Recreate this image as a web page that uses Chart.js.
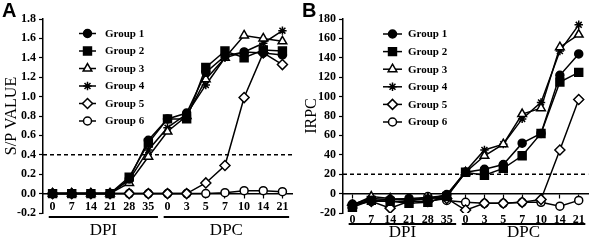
<!DOCTYPE html>
<html><head><meta charset="utf-8">
<script src="https://cdn.jsdelivr.net/npm/chart.js@4/dist/chart.umd.min.js"></script>
<style>
html,body{margin:0;padding:0;background:#fff;}
#wrap{position:relative;width:600px;height:241px;overflow:hidden;}
.panel{position:absolute;top:0;width:300px;height:241px;}
canvas{display:block;}
</style></head><body>
<div id="wrap">
<div class="panel" style="left:0"><canvas id="cA" width="300" height="241"></canvas></div>
<div class="panel" style="left:300px"><canvas id="cB" width="300" height="241"></canvas></div>
</div>
<script>
// ---------- data ----------
const categories = ['0','7','14','21','28','35','0','3','5','7','10','14','21'];
const groupNames = ['Group 1','Group 2','Group 3','Group 4','Group 5','Group 6'];
const phaseNames = ['DPI','DPC'];
const phaseFirst = [0, 6];   // category index where phase starts
const phaseLast  = [5, 12];  // category index where phase ends

// Panel A: S/P value
const spGroup1 = [0,0,0,0,0.15,0.55,0.77,0.83,1.25,1.42,1.46,1.45,1.43];
const spGroup2 = [0,0,0,0,0.17,0.52,0.77,0.77,1.30,1.47,1.40,1.48,1.47];
const spGroup3 = [0,0,0,0,0.11,0.38,0.64,0.80,1.18,1.40,1.63,1.60,1.57];
const spGroup4 = [0,0,0,0,0.14,0.45,0.68,0.82,1.12,1.40,1.46,1.55,1.68];
const spGroup5 = [0,0,0,0,0,0,0,0,0.11,0.29,0.99,1.45,1.33];
const spGroup6 = [0,0,0,0,0,0,0,0,0,0.01,0.03,0.03,0.02];
const spTickMin = -0.2, spTickMax = 1.8, spTickStep = 0.2;
const spCutoff = 0.4;

// Panel B: IRPC
const irpcGroup1 = [-11,-7,-6,-5,-6,-1,22,25,30,52,62,122,144];
const irpcGroup2 = [-14,-7,-8,-10,-9,-3,22,19,26,39,62,115,125];
const irpcGroup3 = [-12,-3,-5,-7,-5,-3,22,39,51,82,88,151,164];
const irpcGroup4 = [-11,-5,-6,-5,-4,-2,23,45,51,77,94,147,174];
const irpcGroup5 = [-12,-8,-15,-8,-8,-5,-17,-10,-10,-9,-6,45,97];
const irpcGroup6 = [-11,-8,-8,-8,-3,-7,-9,-10,-10,-9,-9,-13,-7];
const irpcTickMin = -20, irpcTickMax = 180, irpcTickStep = 20;
const irpcCutoff = 20;

// ---------- styles ----------
const markerStyles = [
  {pointStyle:'circle',   radius:4,   fill:'#000'},
  {pointStyle:'rect',     radius:5.6, fill:'#000'},
  {pointStyle:'triangle', radius:5,   fill:'#fff'},
  {pointStyle:'star',     radius:4.2, fill:'#fff'},
  {pointStyle:'rectRot',  radius:5,   fill:'#fff'},
  {pointStyle:'circle',   radius:4,   fill:'#fff'}
];
const SERIF = "'Liberation Serif','Times New Roman',serif";

function makeDatasets(series){
  return series.map((d,i)=>({
    label: groupNames[i],
    data: d,
    borderColor:'#000',
    borderWidth:1.5,
    backgroundColor: markerStyles[i].fill,
    pointStyle: markerStyles[i].pointStyle,
    pointRadius: markerStyles[i].radius,
    pointBorderWidth:1.5,
    pointBorderColor:'#000',
    pointBackgroundColor: markerStyles[i].fill,
    tension:0,
    fill:false
  }));
}

const decorPlugin = {
  id:'decor',
  beforeDatasetsDraw(chart, args, o){
    const ctx = chart.ctx, a = chart.chartArea, y = chart.scales.y.getPixelForValue(o.cutoff);
    ctx.save();
    ctx.strokeStyle='#000'; ctx.lineWidth=1.6; ctx.setLineDash([4,3]);
    ctx.beginPath(); ctx.moveTo(a.left, y); ctx.lineTo(a.right, y); ctx.stroke();
    ctx.restore();
  },
  afterDraw(chart, args, o){
    const ctx = chart.ctx, xs = chart.scales.x;
    ctx.save();
    // legend
    chart.data.datasets.forEach((ds,i)=>{
      const y = o.legendTop + i*o.legendStep;
      ctx.strokeStyle='#000'; ctx.lineWidth=1.5; ctx.setLineDash([]);
      ctx.beginPath(); ctx.moveTo(o.legendX0,y); ctx.lineTo(o.legendX1,y); ctx.stroke();
      ctx.fillStyle = ds.pointBackgroundColor;
      Chart.helpers.drawPoint(ctx,{pointStyle:ds.pointStyle,radius:ds.pointRadius,borderWidth:1.5,rotation:0},(o.legendX0+o.legendX1)/2,y);
      ctx.fillStyle='#000';
      ctx.font = "bold 11px "+SERIF;
      ctx.textAlign='left'; ctx.textBaseline='middle';
      ctx.fillText(ds.label, o.legendText, y+0.5);
    });
    // phase underline + labels
    const step = xs.getPixelForValue(1) - xs.getPixelForValue(0);
    phaseNames.forEach((p,i)=>{
      const x0 = xs.getPixelForValue(phaseFirst[i]) - 0.2*step;
      const x1 = xs.getPixelForValue(phaseLast[i]) + (i===0 ? 0.5 : 0.35)*step;
      ctx.strokeStyle='#000'; ctx.lineWidth=2;
      ctx.beginPath(); ctx.moveTo(x0,o.phaseLineY); ctx.lineTo(x1,o.phaseLineY); ctx.stroke();
      ctx.fillStyle='#000'; ctx.font="17px "+SERIF; ctx.textAlign='center'; ctx.textBaseline='middle';
      ctx.fillText(p,(x0+x1)/2,o.phaseTextY);
    });
    // panel letter
    ctx.font="bold 20px 'Liberation Sans',Arial,sans-serif"; ctx.textAlign='left'; ctx.textBaseline='alphabetic';
    ctx.fillText(o.letter, 2, 17);
    ctx.restore();
  }
};

function makeChart(id, series, yTitle, tmin, tmax, tstep, fmt, extra){
  return new Chart(document.getElementById(id), {
    type:'line',
    data:{ labels: categories, datasets: makeDatasets(series) },
    plugins:[decorPlugin],
    options:{
      responsive:false, animation:false, devicePixelRatio:1,
      layout:{padding:{left:0, top:19, right:extra.padRight, bottom:28}},
      plugins:{ legend:{display:false}, tooltip:{enabled:false}, decor: extra.decor },
      scales:{
        x:{
          type:'category', position:{y:0}, offset:true,
          afterFit(s){ s.height = 0; },
          grid:{drawOnChartArea:false, drawTicks:true, tickLength:4, tickColor:'#000', tickWidth:1.2},
          border:{display:true, color:'#000', width:1.5},
          ticks:{autoSkip:false, maxRotation:0, color:'#000', padding:extra.xPad, font:{family:SERIF, size:12, weight:'bold'}}
        },
        y:{
          min:tmin, max:tmax,
          afterFit(s){ s.width = extra.yWidth; },
          grid:{drawOnChartArea:false, drawTicks:true, tickLength:4, tickColor:'#000', tickWidth:1.2},
          border:{display:true, color:'#000', width:1.5},
          ticks:{stepSize:tstep, color:'#000', padding:3, font:{family:SERIF, size:12, weight:'bold'}, callback:fmt},
          title:{display:true, text:yTitle, color:'#000', font:{family:SERIF, size:16}, padding:{top:2,bottom:0}}
        }
      }
    }
  });
}

makeChart('cA',[spGroup1,spGroup2,spGroup3,spGroup4,spGroup5,spGroup6],'S/P VALUE',
  spTickMin, spTickMax, spTickStep, v=>Number(v).toFixed(1),
  {padRight:8, yWidth:43, xPad:2,
   decor:{cutoff:spCutoff, letter:'A', legendTop:33.5, legendStep:17.5, legendX0:79, legendX1:96, legendText:105, phaseLineY:217, phaseTextY:231}});

makeChart('cB',[irpcGroup1,irpcGroup2,irpcGroup3,irpcGroup4,irpcGroup5,irpcGroup6],'IRPC',
  irpcTickMin, irpcTickMax, irpcTickStep, v=>String(Math.round(v)),
  {padRight:4, yWidth:43, xPad:15,
   decor:{cutoff:irpcCutoff, letter:'B', legendTop:34, legendStep:17.6, legendX0:83, legendX1:102, legendText:108, phaseLineY:224, phaseTextY:232.5}});
</script>
</body></html>
